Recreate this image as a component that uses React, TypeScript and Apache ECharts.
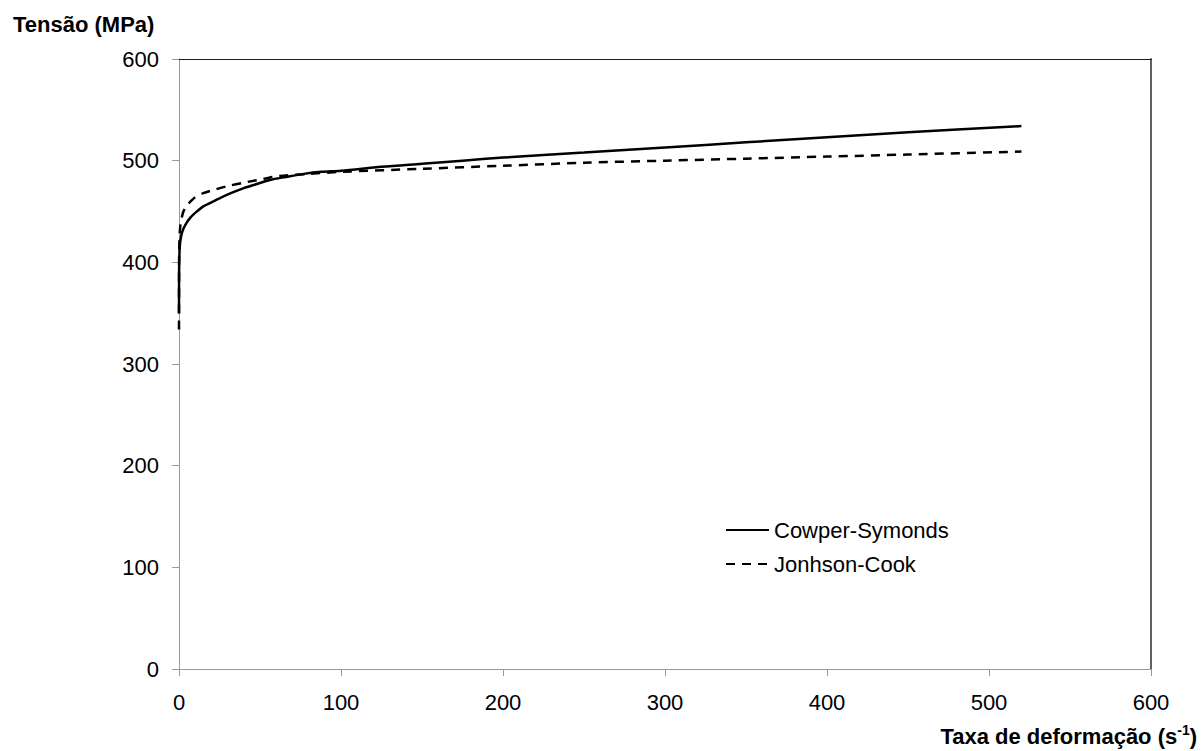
import React, { useEffect, useRef } from "react";
import * as echarts from "echarts";

const FONT = "'Liberation Sans', Arial, Helvetica, sans-serif";

const seriesNames = ["Cowper-Symonds", "Jonhson-Cook"];

// strain rate (s^-1), stress (MPa)
const cowperX = [0, 0.05, 0.2, 0.5, 1, 2, 4, 7, 11, 15, 20, 25, 32, 40, 48, 56, 66, 77, 88, 100, 125, 150, 175, 200, 250, 300, 350, 400, 450, 520];
const cowperY = [350, 385, 405, 416, 423, 430, 437, 444, 450, 455, 459, 463, 468, 473, 477, 481, 484, 487, 489, 490, 494, 497, 500, 503, 508, 513, 518, 523, 528, 534];

const johnsonX = [0, 0.02, 0.1, 0.3, 0.6, 1, 1.7, 2.5, 4, 6, 10, 15, 21, 30, 42, 52, 62, 80, 100, 150, 200, 250, 300, 350, 400, 450, 520];
const johnsonY = [334, 380, 408, 424, 432, 438, 444, 449, 454, 458, 464, 468, 471, 475, 479, 482, 485, 487, 489, 492, 495, 498, 500, 502, 504, 506, 509];

const xTicks = { min: 0, max: 600, interval: 100 };
const yTicks = { min: 0, max: 600, interval: 100 };

const yTitle = "Tensão (MPa)";
const xTitleMain = "Taxa de deformação (s";
const xTitleSup = "-1";

function pairs(xs: number[], ys: number[]) {
  return xs.map((x, i) => [x, ys[i]]);
}

export default function App() {
  const ref = useRef<HTMLDivElement>(null);
  useEffect(() => {
    if (!ref.current) return;
    const chart = echarts.init(ref.current, null, { renderer: "svg" });
    const axisLabel = { color: "#000", fontSize: 22, fontFamily: FONT };
    chart.setOption({
      animation: false,
      backgroundColor: "#fff",
      grid: { left: 179, right: 52, top: 59, bottom: 82, containLabel: false },
      xAxis: [
        {
          type: "value",
          ...xTicks,
          axisLine: { show: true, lineStyle: { color: "#9a9a9a", width: 1 } },
          axisTick: { show: true, inside: false, length: 7, lineStyle: { color: "#9a9a9a" } },
          axisLabel: { ...axisLabel, margin: 22 },
          splitLine: { show: false },
        },
        {
          type: "value",
          position: "top",
          ...xTicks,
          axisLine: { show: true, onZero: false, lineStyle: { color: "#1a1a1a", width: 1.2 } },
          axisTick: { show: false },
          axisLabel: { show: false },
          splitLine: { show: false },
        },
      ],
      yAxis: [
        {
          type: "value",
          ...yTicks,
          axisLine: { show: true, lineStyle: { color: "#9a9a9a", width: 1 } },
          axisTick: { show: true, inside: false, length: 7, lineStyle: { color: "#9a9a9a" } },
          axisLabel: { ...axisLabel, margin: 20 },
          splitLine: { show: false },
        },
        {
          type: "value",
          position: "right",
          ...yTicks,
          axisLine: { show: true, onZero: false, lineStyle: { color: "#606060", width: 2 } },
          axisTick: { show: false },
          axisLabel: { show: false },
          splitLine: { show: false },
        },
      ],
      legend: {
        orient: "vertical",
        left: 725,
        top: 519,
        padding: 0,
        itemWidth: 43,
        itemHeight: 21,
        itemGap: 12,
        itemStyle: { color: "transparent", borderColor: "transparent", borderWidth: 0, opacity: 0 },
        textStyle: { color: "#000", fontSize: 22, fontFamily: FONT, lineHeight: 21 },
        data: seriesNames,
      },
      series: [
        {
          name: seriesNames[0],
          type: "line",
          data: pairs(cowperX, cowperY),
          showSymbol: false,
          symbol: "none",
          smooth: 0.3,
          lineStyle: { color: "#000", width: 2.5, type: "solid" },
          itemStyle: { color: "#000" },
        },
        {
          name: seriesNames[1],
          type: "line",
          data: pairs(johnsonX, johnsonY),
          showSymbol: false,
          symbol: "none",
          smooth: 0.3,
          lineStyle: { color: "#000", width: 2.5, type: [9, 7] },
          itemStyle: { color: "#000" },
        },
      ],
      graphic: [
        {
          type: "text",
          left: 13,
          top: 13,
          style: { text: yTitle, fill: "#000", font: `bold 22px ${FONT}` },
        },
        {
          type: "text",
          right: 6,
          top: 723,
          style: {
            text: `{a|${xTitleMain}}{b|${xTitleSup}}{a|)}`,
            fill: "#000",
            rich: {
              a: { fontSize: 22, fontWeight: "bold", fontFamily: FONT, lineHeight: 26, fill: "#000" },
              b: { fontSize: 14, fontWeight: "bold", fontFamily: FONT, lineHeight: 26, verticalAlign: "top", fill: "#000" },
            },
          },
        },
      ],
    });
    return () => chart.dispose();
  }, []);
  return <div ref={ref} style={{ position: "absolute", left: 0, top: 0, width: 1203, height: 751 }} />;
}
